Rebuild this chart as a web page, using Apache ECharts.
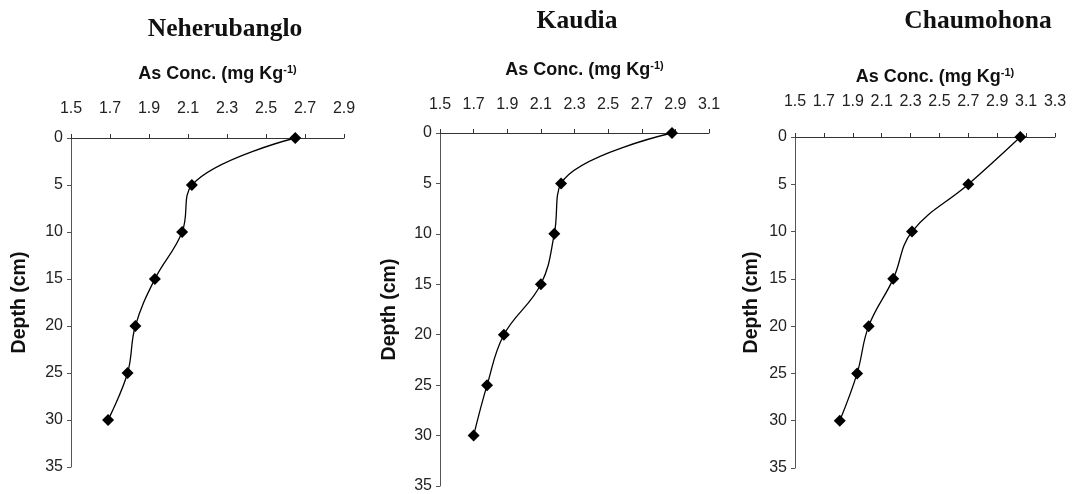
<!DOCTYPE html>
<html>
<head>
<meta charset="utf-8">
<script src="https://cdn.jsdelivr.net/npm/echarts@6/dist/echarts.min.js"></script>
<style>
html,body{margin:0;padding:0;background:#fff;}
#c{width:1073px;height:494px;}
</style>
</head>
<body>
<div id="c"></div>
<script>
// ---- data ----
const depths = [0, 5, 10, 15, 20, 25, 30];
const neherubanglo = [2.65, 2.12, 2.07, 1.93, 1.83, 1.79, 1.69];
const kaudia = [2.88, 2.22, 2.18, 2.10, 1.88, 1.78, 1.70];
const chaumohona = [3.06, 2.70, 2.31, 2.18, 2.01, 1.93, 1.81];
const panelTitles = ['Neherubanglo', 'Kaudia', 'Chaumohona'];
const xTicks1 = [1.5, 1.7, 1.9, 2.1, 2.3, 2.5, 2.7, 2.9];
const xTicks2 = [1.5, 1.7, 1.9, 2.1, 2.3, 2.5, 2.7, 2.9, 3.1];
const xTicks3 = [1.5, 1.7, 1.9, 2.1, 2.3, 2.5, 2.7, 2.9, 3.1, 3.3];
const yTicks = [0, 5, 10, 15, 20, 25, 30, 35];

const panels = [
  {vals: neherubanglo, ticks: xTicks1, grid: {left: 71, top: 138, width: 273, height: 329},
   title: {x: 225, y: 27}, labelMargin: 21, nameGap: 53, yNameGap: 41},
  {vals: kaudia, ticks: xTicks2, grid: {left: 440, top: 133, width: 269, height: 355},
   title: {x: 577, y: 19}, labelMargin: 20, nameGap: 52, yNameGap: 40},
  {vals: chaumohona, ticks: xTicks3, grid: {left: 795, top: 137, width: 260, height: 331},
   title: {x: 978, y: 19}, labelMargin: 27, nameGap: 49, yNameGap: 33}
];

const axisColor = '#333';
const labelColor = '#222';

const option = {
  backgroundColor: '#fff',
  animation: false,
  title: panels.map((p, i) => ({
    text: panelTitles[i],
    left: p.title.x, top: p.title.y - 11, textAlign: 'center', padding: 0,
    textStyle: {fontFamily: 'Liberation Serif', fontWeight: 'bold', fontSize: 25.5, color: '#111'}
  })),
  grid: panels.map(p => Object.assign({containLabel: false}, p.grid)),
  xAxis: panels.map((p, i) => ({
    type: 'value', gridIndex: i, position: 'top',
    min: p.ticks[0], max: p.ticks[p.ticks.length - 1],
    name: '{a|As Conc. (mg Kg}{s|-1)}',
    nameLocation: 'middle', nameGap: p.nameGap,
    nameTextStyle: {
      padding: [0, 0, 0, 20],
      rich: {
        a: {fontFamily: 'Liberation Sans', fontWeight: 'bold', fontSize: 18, color: '#111', lineHeight: 21},
        s: {fontFamily: 'Liberation Sans', fontWeight: 'bold', fontSize: 11, color: '#111', verticalAlign: 'top', lineHeight: 12}
      }
    },
    axisLine: {show: true, onZero: false, lineStyle: {color: axisColor, width: 1}},
    axisTick: {show: true, inside: false, length: 4, customValues: p.ticks, lineStyle: {color: axisColor}},
    axisLabel: {show: true, customValues: p.ticks, margin: p.labelMargin,
      formatter: v => v.toFixed(1),
      fontFamily: 'Liberation Sans', fontSize: 16, color: labelColor},
    splitLine: {show: false}
  })),
  yAxis: panels.map((p, i) => ({
    type: 'value', gridIndex: i, inverse: true,
    min: yTicks[0], max: yTicks[yTicks.length - 1], interval: 5,
    name: 'Depth (cm)', nameLocation: 'middle', nameGap: p.yNameGap, nameRotate: 90,
    nameTextStyle: {fontFamily: 'Liberation Sans', fontWeight: 'bold', fontSize: 19.5, color: '#111'},
    axisLine: {show: true, onZero: false, lineStyle: {color: '#555', width: 1}},
    axisTick: {show: true, length: 4, lineStyle: {color: '#555'}},
    axisLabel: {show: true, margin: 8, fontFamily: 'Liberation Sans', fontSize: 16, color: labelColor},
    splitLine: {show: false}
  })),
  series: panels.map((p, i) => ({
    type: 'line', xAxisIndex: i, yAxisIndex: i,
    data: depths.map((d, k) => [p.vals[k], d]),
    smooth: 0.4,
    symbol: 'diamond', symbolSize: 12,
    lineStyle: {color: '#000', width: 1.3},
    itemStyle: {color: '#000'}
  }))
};

const chart = echarts.init(document.getElementById('c'), null, {renderer: 'canvas'});
chart.setOption(option);
</script>
</body>
</html>
